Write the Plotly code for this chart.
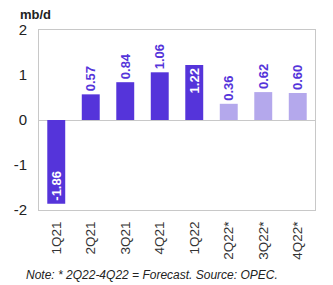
import plotly.graph_objects as go

categories = ["1Q21", "2Q21", "3Q21", "4Q21", "1Q22", "2Q22*", "3Q22*", "4Q22*"]
values = [-1.86, 0.57, 0.84, 1.06, 1.22, 0.36, 0.62, 0.60]
label_text = ["-1.86", "0.57", "0.84", "1.06", "1.22", "0.36", "0.62", "0.60"]
is_forecast = [False, False, False, False, False, True, True, True]
y_ticks = [-2, -1, 0, 1, 2]
y_tick_text = ["-2", "-1", "0", "1", "2"]

DARK = "#5534DA"
LIGHT = "#B4A8EC"

colors = [LIGHT if f else DARK for f in is_forecast]
positions = ["inside" if (v < 0 or v > 1.1) else "outside" for v in values]
text_colors = ["white" if p == "inside" else DARK for p in positions]

fig = go.Figure()
fig.add_trace(go.Bar(
    x=categories, y=values, marker=dict(color=colors, line=dict(width=0)),
    text=label_text, textposition=positions, textangle=-90,
    insidetextanchor="end", cliponaxis=False, constraintext="none",
    textfont=dict(family="Liberation Sans, Arial", size=13, color=text_colors),
    outsidetextfont=dict(family="Liberation Sans, Arial", size=13, color=DARK),
    insidetextfont=dict(family="Liberation Sans, Arial", size=13, color="white"),
    texttemplate="<b>%{text}</b>",
))

fig.update_layout(
    width=325, height=277,
    margin=dict(l=31, r=18, t=22, b=75),
    paper_bgcolor="white", plot_bgcolor="white",
    bargap=0.48, showlegend=False,
    font=dict(family="Liberation Sans, Arial", color="#222"),
    xaxis=dict(tickangle=-90, showgrid=False, tickfont=dict(size=13.5, color="#333"),
               showline=True, linecolor="#C8C8C8", mirror=True, ticks="",
               automargin=False, ticklabelstandoff=5),
    yaxis=dict(range=[-2, 2], tickvals=y_ticks, ticktext=y_tick_text, showgrid=False,
               zeroline=True, zerolinecolor="#C8C8C8", zerolinewidth=1,
               tickfont=dict(size=15, color="#222"),
               showline=True, linecolor="#C8C8C8", mirror=True, ticks="",
               automargin=False, ticklabelstandoff=8),
    uniformtext=dict(mode=False),
)

fig.add_shape(type="rect", xref="paper", yref="paper", x0=(318 - 31) / 276, x1=(325 - 31) / 276,
              y0=-75 / 180, y1=1 + 22 / 180, fillcolor="#EFF1F4", line=dict(width=0), layer="above")

fig.add_annotation(text="<b>mb/d</b>", xref="paper", yref="paper", x=-0.076, y=1.0,
                   yshift=16, xanchor="left", yanchor="middle", showarrow=False,
                   font=dict(size=13, color="#222"))
fig.add_annotation(text="<i>Note: * 2Q22-4Q22 = Forecast. Source: OPEC.</i>", xref="paper", yref="paper",
                   x=-0.054, y=0, yshift=-65, xanchor="left", yanchor="middle", showarrow=False,
                   font=dict(size=12, color="#222"))

fig.write_html("out.html")
